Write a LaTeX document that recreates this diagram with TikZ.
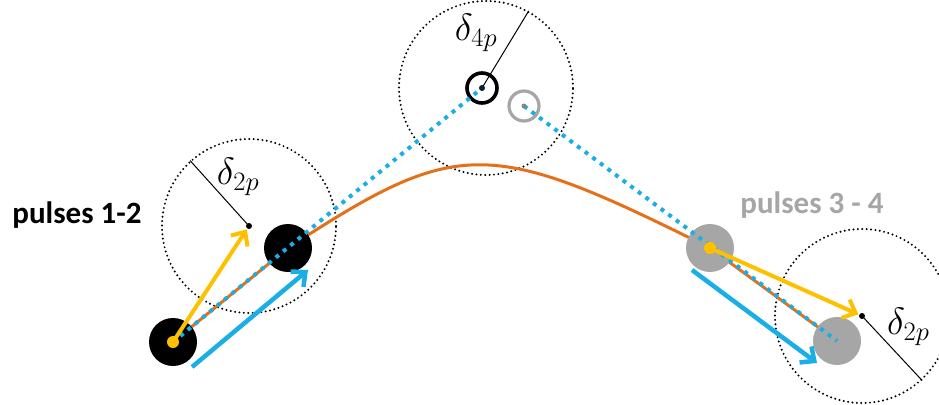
\documentclass[tikz,border=0pt]{standalone}
\usepackage{fix-cm}
\usepackage{fontspec}
\newfontfamily\calib{Carlito}
\usetikzlibrary{arrows.meta,calc}
\definecolor{orng}{HTML}{E4711A}
\definecolor{skyb}{HTML}{1AAEE6}
\definecolor{yelw}{HTML}{FFC000}
\definecolor{gry}{HTML}{A6A6A6}
\tikzset{
  disk/.style={circle,inner sep=0pt,minimum size=48pt},
  dotcirc/.style={circle,draw=black,line width=2.2pt,line cap=round,dash pattern=on 0pt off 4.4pt,inner sep=0pt,minimum size=174pt},
  ring/.style={circle,line width=3.6pt,inner sep=0pt,minimum size=30pt},
  cdot/.style={circle,fill=black,inner sep=0pt,minimum size=6pt},
  ydot/.style={circle,fill=yelw,inner sep=0pt,minimum size=12pt},
  orline/.style={draw=orng,line width=3pt},
  bdots/.style={draw=skyb,line width=4pt,dash pattern=on 4pt off 5.5pt},
  yarrow/.style={draw=yelw,line width=4pt,-{Straight Barb[length=11pt,width=20pt,line width=4pt]}},
  barrow/.style={draw=skyb,line width=4.5pt,-{Straight Barb[length=11pt,width=20pt,line width=4.5pt]}},
  radline/.style={draw=black,line width=1pt},
  lbl/.style={font=\calib\bfseries\fontsize{31}{36}\selectfont,inner sep=0pt},
  dlbl/.style={font=\fontsize{38}{44}\selectfont,inner sep=0pt}
}
\begin{document}
\begin{tikzpicture}[x=1pt,y=-1pt]
\useasboundingbox (0,0) rectangle (939,404);
\clip (0,0) rectangle (939,404);
% dotted circles
\node[dotcirc] (c1) at (249,226) {};
\node[dotcirc] (c4) at (486,88) {};
\node[dotcirc] (c2) at (862,316) {};
% pulse positions
\coordinate (q1) at (173,342);
\coordinate (q2) at (288,248);
\coordinate (q3) at (710,248);
\coordinate (q4) at (837,341);
% orange trajectory
\draw[orline] (q1) -- (q2) .. controls (458,137) and (488,137) .. (q3) -- (q4);
% disks
\node[disk,fill=black] (p1) at (q1) {};
\node[disk,fill=black] (p2) at (q2) {};
\node[disk,fill=gry] (p3) at (q3) {};
\node[disk,fill=gry] (p4) at (q4) {};
% rings
\node[ring,draw=black] (r1) at (482,88) {};
\node[ring,draw=gry,line width=3.2pt] (r2) at (524,106) {};
% blue dotted lines
\draw[bdots] (p1.center) -- (r1.center);
\draw[bdots] (r2.center) -- (p4.center);
% radius lines
\draw[radline] (c1.center) -- (c1.132.5);
\draw[radline] (r1.center) -- (c4.61);
\draw[radline] (c2.center) -- (c2.-47);
% center dots
\node[cdot] (d1) at (c1.center) {};
\node[cdot] (d2) at (c2.center) {};
\node[circle,fill=black!80!skyb,inner sep=0pt,minimum size=6pt] (d3) at (r1.center) {};
\node[circle,fill=gry!80!black,inner sep=0pt,minimum size=5pt] (d4) at (r2.center) {};
% arrows
\coordinate (b1s) at (192,367);
\coordinate (b1e) at (308,270);
\coordinate (b2s) at (692,270);
\coordinate (b2e) at (817,363);
\draw[barrow] (b1s) -- (b1e);
\draw[barrow] (b2s) -- (b2e);
\draw[yarrow] (p1.center) -- ($(d1)!4pt!(p1.center)$);
\draw[yarrow] (p3.center) -- ($(d2)!4pt!(p3.center)$);
\node[ydot] (y1) at (p1.center) {};
\node[ydot] (y2) at (p3.center) {};
% labels
\node[dlbl] (l1) at (238,177) {$\delta_{2p}$};
\node[dlbl] (l2) at (476,33) {$\delta_{4p}$};
\node[dlbl,anchor=west] (l3) at (887,327) {$\delta_{2p}$};
\node[lbl] (t1) at (77,215) {pulses 1-2};
\node[lbl,text=gry] (t2) at (812,205) {pulses 3 - 4};
\end{tikzpicture}
\end{document}
